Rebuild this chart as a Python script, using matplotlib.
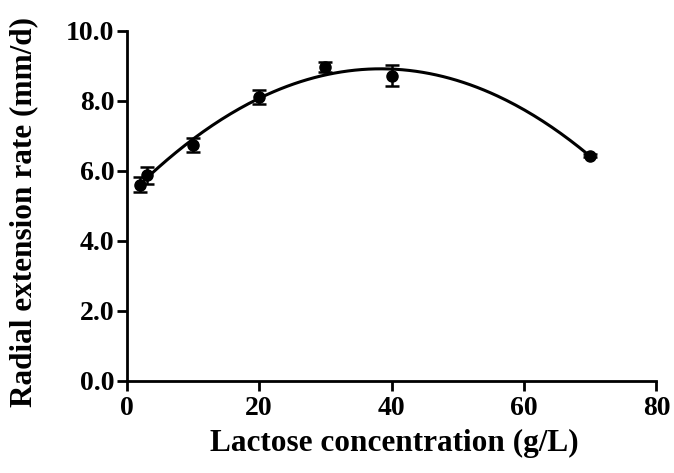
import numpy as np
import matplotlib
matplotlib.use("Agg")
import matplotlib.pyplot as plt

plt.rcParams['font.family'] = ['Liberation Serif', 'DejaVu Serif']
plt.rcParams['font.weight'] = 'bold'

# lactose concentration (g/L) and radial extension rate (mm/d)
lactose = np.array([2, 3, 10, 20, 30, 40, 70])
rate = np.array([5.60, 5.87, 6.73, 8.10, 8.97, 8.72, 6.43])
err = np.array([0.22, 0.25, 0.20, 0.20, 0.15, 0.30, 0.05])

# quadratic fit through the data
coef = np.polyfit(lactose, rate, 2)
xf = np.linspace(lactose.min(), lactose.max(), 200)
yf = np.polyval(coef, xf)

fig = plt.figure(figsize=(6.74, 4.73), dpi=100)
ax = fig.add_axes([0.188, 0.195, 0.786, 0.74])

ax.plot(xf, yf, color='black', lw=2.2, zorder=2)
ax.errorbar(lactose, rate, yerr=err, fmt='o', color='black', ms=8,
            elinewidth=1.8, capsize=5, capthick=1.8, zorder=3)

ax.set_xlim(0, 80)
ax.set_ylim(0, 10)
ax.set_xticks([0, 20, 40, 60, 80])
ax.set_yticks(np.arange(0, 10.1, 2))
ax.set_yticklabels([f'{v:.1f}' for v in np.arange(0, 10.1, 2)])

for s in ['top', 'right']:
    ax.spines[s].set_visible(False)
for s in ['left', 'bottom']:
    ax.spines[s].set_linewidth(2)
ax.tick_params(width=2, length=7, labelsize=20, pad=2)
ax.tick_params(axis='x', pad=4)

ax.set_xlabel('Lactose concentration (g/L)', fontsize=22.5, fontweight='bold')
ax.set_ylabel('Radial extension rate (mm/d)', fontsize=22.5, fontweight='bold')
ax.xaxis.label.set_va('center')
ax.yaxis.label.set_va('center')
ax.xaxis.set_label_coords(0.505, -0.18)
ax.yaxis.set_label_coords(-0.195, 0.483)

fig.savefig('out.png', dpi=100)
